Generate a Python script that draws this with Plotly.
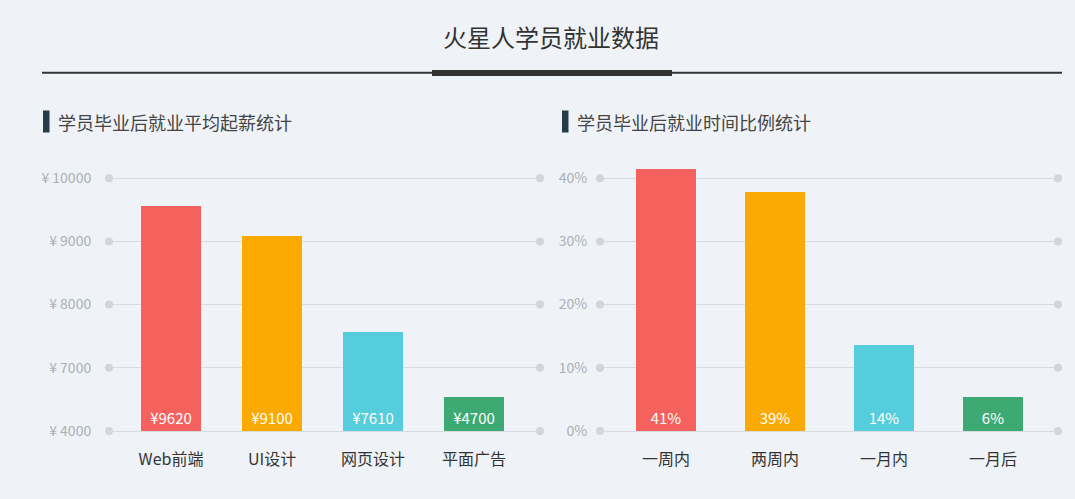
import plotly.graph_objects as go

# data
courses = ["Web前端", "UI设计", "网页设计", "平面广告"]
salary = [9620, 9100, 7610, 4700]              # values printed on bars
salary_bar_level = [9560, 9085, 7565, 6540]    # bar tops on the (broken) yen axis
salary_ticks = [6000, 7000, 8000, 9000, 10000]
salary_tick_text = ["¥ 4000", "¥ 7000", "¥ 8000", "¥ 9000", "¥ 10000"]

periods = ["一周内", "两周内", "一月内", "一月后"]
ratio = [41, 39, 14, 6]                         # values printed on bars
ratio_bar_level = [41.5, 37.8, 13.6, 5.4]       # bar tops on the % axis
ratio_ticks = [0, 10, 20, 30, 40]
ratio_tick_text = ["0%", "10%", "20%", "30%", "40%"]

colors = ["#f5625e", "#fbaa01", "#56cddc", "#3eaa73"]
FONT = "Noto Sans CJK SC"
W, H = 1075, 499

def px(x):
    return x / W

def py(y):
    return 1 - y / H

left_range = [-0.614, 3.653]
right_range = [-0.606, 3.596]
salary_range = [6000, 10446]
ratio_range = [0, 44.46]

xs = list(range(len(courses)))

fig = go.Figure()

fig.add_trace(go.Bar(
    x=xs, y=[v - salary_range[0] for v in salary_bar_level], base=salary_range[0],
    marker=dict(color=colors, line=dict(width=0)), width=0.594,
    text=["¥" + str(v) for v in salary], textposition="inside",
    insidetextanchor="start", textangle=0, constraintext="none",
    insidetextfont=dict(color="white", size=15, family=FONT),
    xaxis="x", yaxis="y", hoverinfo="skip"))

fig.add_trace(go.Bar(
    x=xs, y=ratio_bar_level,
    marker=dict(color=colors, line=dict(width=0)), width=0.55,
    text=[str(v) + "%" for v in ratio], textposition="inside",
    insidetextanchor="start", textangle=0, constraintext="none",
    insidetextfont=dict(color="white", size=15, family=FONT),
    xaxis="x2", yaxis="y2", hoverinfo="skip"))

# round dots at both ends of every grid line
for t in salary_ticks:
    fig.add_trace(go.Scatter(x=left_range, y=[t, t], mode="markers",
                             marker=dict(size=8, color="#d2d5d9"), cliponaxis=False,
                             xaxis="x", yaxis="y", hoverinfo="skip"))
for t in ratio_ticks:
    fig.add_trace(go.Scatter(x=right_range, y=[t, t], mode="markers",
                             marker=dict(size=8, color="#d2d5d9"), cliponaxis=False,
                             xaxis="x2", yaxis="y2", hoverinfo="skip"))

xcommon = dict(type="linear", tickvals=xs, showgrid=False, zeroline=False,
               showline=True, linecolor="#d8dbe0", automargin=False,
               ticks="outside", ticklen=14, tickcolor="rgba(0,0,0,0)",
               tickfont=dict(size=16, color="#333333", family=FONT), fixedrange=True)
ycommon = dict(showgrid=True, gridcolor="#d8dbe0", gridwidth=1, zeroline=False,
               showline=False, automargin=False, ticks="outside", tickcolor="rgba(0,0,0,0)",
               tickfont=dict(size=14, color="#acafb4", family=FONT), fixedrange=True)

fig.update_layout(
    width=W, height=H,
    margin=dict(l=0, r=0, t=0, b=0, pad=0, autoexpand=False),
    paper_bgcolor="#eff3f8", plot_bgcolor="#eff3f8",
    showlegend=False, bargap=0,
    font=dict(family=FONT),
    xaxis=dict(domain=[px(109), px(540)], range=left_range, anchor="y",
               ticktext=courses, **xcommon),
    yaxis=dict(domain=[py(431), py(150)], range=salary_range, anchor="x",
               tickvals=salary_ticks, ticktext=salary_tick_text, ticklen=14, **ycommon),
    xaxis2=dict(domain=[px(600), px(1058)], range=right_range, anchor="y2",
                ticktext=periods, **xcommon),
    yaxis2=dict(domain=[py(431), py(150)], range=ratio_range, anchor="x2",
                tickvals=ratio_ticks, ticktext=ratio_tick_text, ticklen=9, **ycommon),
    shapes=[
        dict(type="line", xref="paper", yref="paper", x0=px(42), x1=px(1062),
             y0=py(72.8), y1=py(72.8), line=dict(color="#333333", width=2)),
        dict(type="rect", xref="paper", yref="paper", x0=px(432), x1=px(672),
             y0=py(70), y1=py(76), fillcolor="#333333", line=dict(width=0)),
        dict(type="rect", xref="paper", yref="paper", x0=px(43), x1=px(49.5),
             y0=py(110.5), y1=py(132.5), fillcolor="#263a48", line=dict(width=0)),
        dict(type="rect", xref="paper", yref="paper", x0=px(562), x1=px(568.5),
             y0=py(110.5), y1=py(132.5), fillcolor="#263a48", line=dict(width=0)),
    ],
    annotations=[
        dict(text="火星人学员就业数据", xref="paper", yref="paper", x=px(551), y=py(37),
             xanchor="center", yanchor="middle", showarrow=False,
             font=dict(size=24, color="#333333", family=FONT)),
        dict(text="学员毕业后就业平均起薪统计", xref="paper", yref="paper", x=px(56), y=py(122),
             xanchor="left", yanchor="middle", showarrow=False,
             font=dict(size=18, color="#444444", family=FONT)),
        dict(text="学员毕业后就业时间比例统计", xref="paper", yref="paper", x=px(575), y=py(122),
             xanchor="left", yanchor="middle", showarrow=False,
             font=dict(size=18, color="#444444", family=FONT)),
    ],
)

# drop the page margin so the figure fills the window
page_fix = ("document.body.style.margin='0';"
            "document.body.style.background='#eff3f8';"
            "document.documentElement.style.overflow='hidden';")

fig.write_html("out.html", config={"displayModeBar": False}, post_script=page_fix)
